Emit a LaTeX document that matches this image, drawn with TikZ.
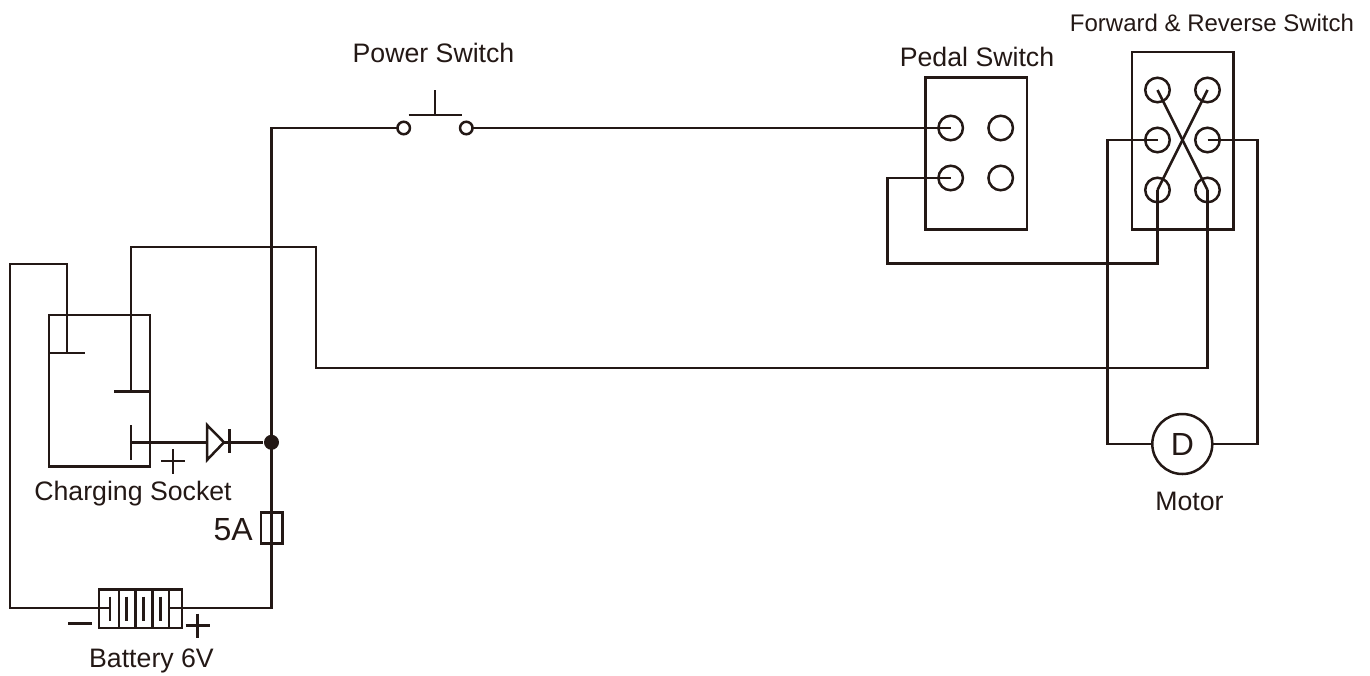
\documentclass[tikz,border=0pt]{standalone}
\usepackage{fontspec}
\setmainfont{Liberation Sans}
\usetikzlibrary{positioning}
\definecolor{wire}{HTML}{231815}
\tikzset{
	lbl/.style={text=wire,inner sep=0pt,font=\fontsize{26.7}{28}\selectfont},
	box/.style={draw=wire,rectangle,inner sep=0pt,outer sep=0pt},
	term/.style={draw=wire,circle,inner sep=0pt,outer sep=0pt,minimum size=24.5pt},
	pin/.style={draw=wire,circle,inner sep=0pt,outer sep=0pt,minimum size=12.5pt},
}
\begin{document}
\begin{tikzpicture}[x=1pt,y=-1pt,on grid,node distance=50pt,line width=2.5pt,draw=wire,color=wire]
			\useasboundingbox (0,0) rectangle (1370,675);
			% labels
			\node[lbl] (l_power) at (433.5,53) {Power Switch};
			\node[lbl] (l_pedal) at (977,57) {Pedal Switch};
			\node[lbl,font=\fontsize{24}{26}\selectfont] (l_rev) at (1212,23) {Forward \& Reverse Switch};
			\node[lbl] (l_sock) at (133,494) {Charging Socket};
			\node[lbl] (l_bat) at (151.5,661.2) {Battery 6V};
			\node[lbl] (l_mot) at (1189.5,501.5) {Motor};
			\node[lbl,font=\fontsize{32}{34}\selectfont,anchor=east] (l_fuse) at (254,530) {5A};
			% pedal switch
			\node[box,minimum width=101.5pt,minimum height=152pt] (pedal) at (976,153.3) {};
			\node[term] (p_1) at (950.7,128) {};
			\node[term] (p_2) [right=of p_1] {};
			\node[term] (p_3) [below=of p_1] {};
			\node[term] (p_4) [right=of p_3] {};
			% forward and reverse switch
			\node[box,minimum width=101.5pt,minimum height=177.5pt] (rev) at (1182.7,140.7) {};
			\node[term] (r_1) at (1157.5,90) {};
			\node[term] (r_2) [right=of r_1] {};
			\node[term] (r_3) [below=of r_1] {};
			\node[term] (r_4) [right=of r_3] {};
			\node[term] (r_5) [below=of r_3] {};
			\node[term] (r_6) [right=of r_5] {};
			\draw (r_1.center) -- (r_6.center);
			\draw (r_2.center) -- (r_5.center);
			% motor
			\node[draw=wire,circle,inner sep=0pt,outer sep=0pt,minimum size=60pt,font=\fontsize{32}{34}\selectfont] (motor) at (1182.3,444) {D};
			\draw (r_3.center) -| (1107.5,444) -- (motor);
			\draw (r_4.center) -| (1257.3,444) -- (motor);
			% power switch
			\node[pin] (sw_1) at (403.7,128) {};
			\node[pin] (sw_2) at (466.3,128) {};
			\coordinate (sw_l) at (408.7,115);
			\coordinate (sw_r) at (461.7,115);
			\coordinate (sw_m) at (435,115);
			\coordinate (sw_t) at (435,90);
			\draw (sw_l) -- (sw_r);
			\draw (sw_m) -- (sw_t);
			\draw (sw_2) -- (p_1.center);
			% socket
			\node[box,minimum width=101pt,minimum height=151.5pt] (sock) at (99.5,390.7) {};
			\coordinate (t_1) at (67,353);
			\coordinate (t_2) at (131,391.5);
			\coordinate (t_3) at (131,442.3);
			\draw (49,353) -- (85,353);
			\draw (114,391.5) -- (150,391.5);
			\draw (131,425) -- (131,460);
			% diode
			\coordinate (d_a) at (207,442.3);
			\coordinate (d_k) at (224,442.3);
			\coordinate (d_c) at (229.5,442.3);
			\draw[line join=miter] (207,425) -- (207,460) -- (d_k) -- cycle;
			\draw (229.5,429) -- (229.5,453);
			\node[circle,fill=wire,inner sep=0pt,minimum size=15pt] (dot) at (271.5,442.3) {};
			\draw (t_3) -- (d_a);
			\draw (d_k) -- (dot);
			% fuse and battery
			\node[box,minimum width=21.7pt,minimum height=30.6pt] (fuse) at (271.8,528) {};
			\node[box,minimum width=83pt,minimum height=38.7pt] (bat) at (140.5,608.6) {};
			\foreach \x in {119,135.3,152.3,169} {
				\draw (\x,589.3) -- (\x,628);
			}
			\foreach \x in {110,126.7,143.7,160.3} {
				\draw (\x,596.7) -- (\x,620.7);
			}
			\coordinate (b_n) at (110,608);
			\coordinate (b_p) at (169,608);
			% wires
			\draw (sw_1) -| (271.5,608) -- (b_p);
			\draw (t_1) |- (10,264) |- (b_n);
			\draw (t_2) |- (316,247) |- (1207.5,368) -- (r_6.center);
			\draw (p_3.center) -| (887.5,263.5) -| (r_5.center);
			% polarity marks
			\draw (161,461) -- (185,461);
			\draw (173,449) -- (173,474);
			\draw (68.3,623.7) -- (91.7,623.7);
			\draw (185.7,625.7) -- (209.7,625.7);
			\draw (197.7,613.7) -- (197.7,638);
		\end{tikzpicture}
\end{document}
